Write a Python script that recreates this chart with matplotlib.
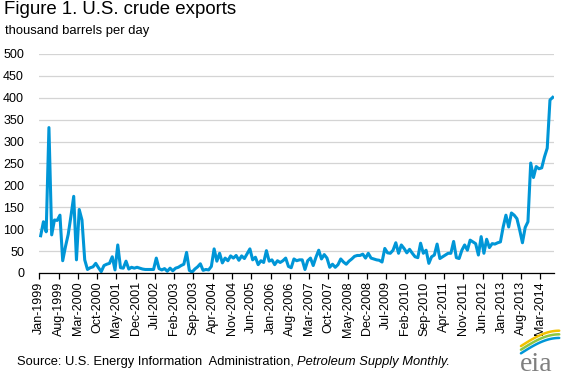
import matplotlib

matplotlib.use("Agg")
import matplotlib.pyplot as plt
import numpy as np

# monthly U.S. crude exports, Jan-1999 .. Jul-2014 (thousand barrels per day)
exports = [
    85, 117, 94, 332, 87, 121, 120, 132, 28, 60, 88, 130,          # 1999
    175, 30, 145, 121, 30, 8, 12, 14, 22, 12, 3, 17,               # 2000
    20, 22, 37, 7, 64, 12, 11, 27, 9, 13, 11, 13,                  # 2001
    11, 9, 8, 8, 8, 8, 34, 10, 7, 10, 4, 11,                       # 2002
    5, 11, 13, 17, 20, 47, 6, 2, 9, 14, 21, 6,                     # 2003
    8, 7, 15, 55, 27, 45, 23, 34, 28, 39, 34, 40,                  # 2004
    29, 39, 33, 44, 55, 30, 36, 19, 28, 24, 51, 27,                # 2005
    30, 19, 28, 24, 28, 34, 15, 12, 32, 28, 30, 30,                # 2006
    8, 28, 34, 17, 36, 52, 32, 42, 34, 13, 20, 13,                 # 2007
    19, 32, 25, 20, 27, 32, 38, 40, 40, 43, 34, 45,                # 2008
    34, 32, 30, 29, 25, 56, 46, 45, 52, 69, 45, 64,                # 2009
    56, 46, 54, 45, 37, 35, 68, 45, 52, 22, 37, 41,                # 2010
    66, 33, 37, 41, 45, 45, 72, 35, 33, 52, 64, 52,                # 2011
    75, 71, 67, 41, 83, 45, 77, 58, 67, 66, 69, 71,                # 2012
    105, 132, 105, 137, 132, 124, 98, 69, 104, 117, 251, 218,      # 2013
    243, 238, 240, 265, 285, 395, 401,                             # 2014
]
tick_labels = [
    "Jan-1999", "Aug-1999", "Mar-2000", "Oct-2000", "May-2001", "Dec-2001",
    "Jul-2002", "Feb-2003", "Sep-2003", "Apr-2004", "Nov-2004", "Jun-2005",
    "Jan-2006", "Aug-2006", "Mar-2007", "Oct-2007", "May-2008", "Dec-2008",
    "Jul-2009", "Feb-2010", "Sep-2010", "Apr-2011", "Nov-2011", "Jun-2012",
    "Jan-2013", "Aug-2013", "Mar-2014",
]
y_ticks = list(range(0, 501, 50))

BLUE = "#0096D7"
GRID = "#D4D4D4"
FONT = ["Liberation Sans", "DejaVu Sans"]

plt.rcParams["font.family"] = FONT

fig = plt.figure(figsize=(5.63, 3.77), dpi=100, facecolor="white")
ax = fig.add_axes([0.0698, 0.2759, 0.9144, 0.5809])

n = len(exports)
x = np.arange(n) + 0.5  # points sit between tick marks
ax.plot(x, exports, color=BLUE, lw=2.2, solid_joinstyle="round", zorder=3)

ax.set_xlim(0, n)
ax.set_ylim(0, 500)
ax.set_yticks(y_ticks)
ax.set_xticks(np.arange(len(tick_labels)) * 7)
ax.set_xticklabels(tick_labels, rotation=90, fontsize=9)
ax.tick_params(axis="y", length=0, pad=11, labelsize=9)
ax.tick_params(axis="x", length=4, width=0.9, direction="out", pad=2)
ax.grid(axis="y", color=GRID, lw=0.9)
ax.set_axisbelow(True)
for s in ("left", "right", "top"):
    ax.spines[s].set_visible(False)
ax.spines["bottom"].set_linewidth(0.9)
ax.spines["bottom"].set_zorder(4)

fig.text(0.007, 0.997, "Figure 1. U.S. crude exports", ha="left", va="top",
         fontsize=13.4, color="black")
fig.text(0.008, 0.935, "thousand barrels per day", ha="left", va="top",
         fontsize=9.4, color="black")

src = fig.text(0.03, 0.032, "Source: U.S. Energy Information  Administration, ",
               ha="left", va="baseline", fontsize=9.3)
fig.canvas.draw()
bb = src.get_window_extent()
fig.text(bb.x1 / fig.bbox.width, 0.032, "Petroleum Supply Monthly.", ha="left",
         va="baseline", fontsize=9.3, style="italic")

# eia logo
axl = fig.add_axes([0.91, 0.01, 0.085, 0.12])
axl.set_xlim(0, 1)
axl.set_ylim(0, 1)
axl.axis("off")
axl.text(0.5, 0.06, "eia", ha="center", va="baseline", fontsize=20,
         color="#7F7F7F", family=["Liberation Serif", "DejaVu Serif"])
t = np.linspace(0, 1, 40)
for col, off in (("#F2C100", 0.0), ("#8DC63F", 0.08), (BLUE, 0.16)):
    xs = 0.18 + 0.8 * t
    ys = 0.6 - off + 0.34 * np.sin(np.pi * 0.5 * t)
    axl.plot(xs, ys, color=col, lw=1.8, solid_capstyle="round", clip_on=False)

fig.savefig("out.png", dpi=100, facecolor="white")
